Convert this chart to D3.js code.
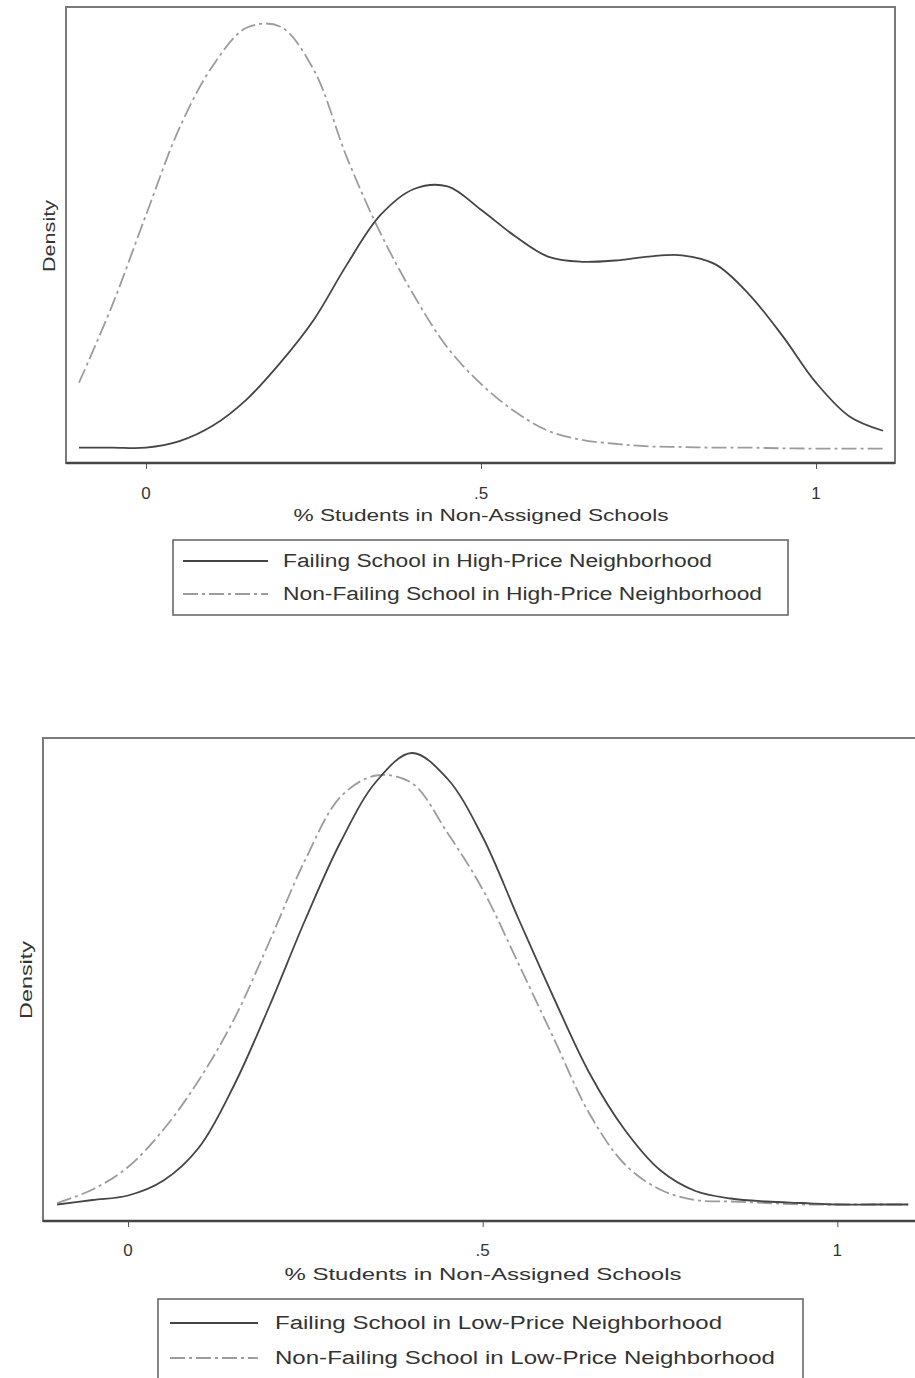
<!DOCTYPE html>
<html>
<head>
<meta charset="utf-8">
<script src="https://cdn.jsdelivr.net/npm/d3@7"></script>
<style>
  body { margin: 0; background: #fff; }
  text { font-family: "Liberation Sans", Arial, sans-serif; fill: #333; }
</style>
</head>
<body>
<svg width="915" height="1378"></svg>
<script>
// share of students in non-assigned schools (x grid of the density estimates)
const xGrid = [-0.1, -0.05, 0, 0.05, 0.1, 0.15, 0.2, 0.25, 0.3, 0.35, 0.4, 0.45, 0.5,
  0.55, 0.6, 0.65, 0.7, 0.75, 0.8, 0.85, 0.9, 0.95, 1, 1.05, 1.1];

// high-price neighborhoods
const highFailing = [0.01, 0.01, 0.01, 0.06, 0.18, 0.38, 0.66, 0.99, 1.42, 1.80, 2.00, 2.02, 1.84,
  1.64, 1.48, 1.44, 1.45, 1.48, 1.49, 1.42, 1.19, 0.87, 0.51, 0.25, 0.14];
const highNonFailing = [0.51, 1.11, 1.80, 2.47, 2.95, 3.24, 3.25, 2.92, 2.24, 1.66, 1.18, 0.78, 0.50,
  0.29, 0.14, 0.07, 0.04, 0.02, 0.015, 0.01, 0.01, 0.005, 0.003, 0.002, 0.002];

// low-price neighborhoods
const lowFailing = [0.01, 0.04, 0.07, 0.17, 0.39, 0.81, 1.34, 1.91, 2.43, 2.83, 3.02, 2.85, 2.46,
  1.92, 1.39, 0.89, 0.51, 0.24, 0.10, 0.05, 0.03, 0.02, 0.01, 0.01, 0.01];
const lowNonFailing = [0.02, 0.11, 0.26, 0.51, 0.84, 1.25, 1.77, 2.31, 2.73, 2.87, 2.82, 2.49, 2.11,
  1.62, 1.12, 0.62, 0.28, 0.11, 0.04, 0.03, 0.02, 0.01, 0.01, 0.01, 0.01];

const tickValues = [0, 0.5, 1];
const tickLabels = ['0', '.5', '1'];
const xTitle = '% Students in Non-Assigned Schools';
const yTitle = 'Density';
const highLegend = ['Failing School in High-Price Neighborhood', 'Non-Failing School in High-Price Neighborhood'];
const lowLegend = ['Failing School in Low-Price Neighborhood', 'Non-Failing School in Low-Price Neighborhood'];

const SOLID = '#454545';
const DASHED = '#9c9c9c';
const DASH = '15,4,3,4';

// layout of the two panels (pixels)
const panels = [
  {
    solid: highFailing, dashed: highNonFailing, legend: highLegend,
    left: 66, right: 895, top: 7, bottom: 463,
    xDom: [-0.1194, 1.1179], yDom: [-0.108, 3.40],
    tickY: 499, titleY: 521, titleX: 481, titleW: 375,
    densX: 55, densY: 236, densW: 72,
    box: [173, 540, 615, 75], rows: [567, 600], line: [183, 268], textX: 283, textW: [429, 479]
  },
  {
    solid: lowFailing, dashed: lowNonFailing, legend: lowLegend,
    left: 43, right: 921, top: 738, bottom: 1221,
    xDom: [-0.1199, 1.118], yDom: [-0.1, 3.12],
    tickY: 1256, titleY: 1280, titleX: 483, titleW: 397,
    densX: 32, densY: 980, densW: 78,
    box: [158, 1299, 645, 90], rows: [1329, 1364], line: [170, 258], textX: 275, textW: [447, 500]
  }
];

const svg = d3.select('svg');

panels.forEach((p) => {
  const x = d3.scaleLinear().domain(p.xDom).range([p.left, p.right]);
  const y = d3.scaleLinear().domain(p.yDom).range([p.bottom, p.top]);
  const g = svg.append('g');

  // plot frame
  g.append('rect')
    .attr('x', p.left).attr('y', p.top)
    .attr('width', p.right - p.left).attr('height', p.bottom - p.top)
    .attr('fill', 'none').attr('stroke', '#7a7a7a').attr('stroke-width', 2);

  // x axis
  const axis = g.append('g')
    .attr('transform', `translate(0,${p.bottom})`)
    .call(d3.axisBottom(x).tickValues(tickValues).tickSize(6).tickFormat((d, i) => tickLabels[i]));
  axis.select('.domain').remove();
  axis.selectAll('.tick line').attr('stroke', '#555');
  axis.selectAll('.tick text').remove();
  g.append('line')
    .attr('x1', p.left).attr('x2', p.right)
    .attr('y1', p.bottom).attr('y2', p.bottom)
    .attr('stroke', '#444').attr('stroke-width', 2.4);

  g.selectAll('.tlab')
    .data(tickValues)
    .enter()
    .append('text')
    .attr('x', (d) => x(d))
    .attr('y', p.tickY)
    .attr('text-anchor', 'middle')
    .style('font-size', '17px')
    .text((d, i) => tickLabels[i]);

  g.append('text')
    .attr('x', p.titleX)
    .attr('y', p.titleY)
    .attr('text-anchor', 'middle')
    .style('font-size', '17px')
    .attr('textLength', p.titleW)
    .attr('lengthAdjust', 'spacingAndGlyphs')
    .text(xTitle);

  g.append('text')
    .attr('transform', `translate(${p.densX},${p.densY}) rotate(-90)`)
    .attr('text-anchor', 'middle')
    .style('font-size', '16px')
    .attr('textLength', p.densW)
    .attr('lengthAdjust', 'spacingAndGlyphs')
    .text(yTitle);

  // density curves
  const line = (vals) => d3.line()
    .x((d, i) => x(xGrid[i]))
    .y((d) => y(d))
    .curve(d3.curveCatmullRom)(vals);

  g.append('path')
    .attr('d', line(p.dashed))
    .attr('fill', 'none')
    .attr('stroke', DASHED)
    .attr('stroke-width', 1.8)
    .attr('stroke-dasharray', DASH);

  g.append('path')
    .attr('d', line(p.solid))
    .attr('fill', 'none')
    .attr('stroke', SOLID)
    .attr('stroke-width', 1.8);

  // legend
  g.append('rect')
    .attr('x', p.box[0]).attr('y', p.box[1])
    .attr('width', p.box[2]).attr('height', p.box[3])
    .attr('fill', '#fff').attr('stroke', '#6a6a6a').attr('stroke-width', 1.6);

  const styles = [
    { color: SOLID, dash: null },
    { color: DASHED, dash: DASH }
  ];
  p.legend.forEach((label, i) => {
    g.append('line')
      .attr('x1', p.line[0]).attr('x2', p.line[1])
      .attr('y1', p.rows[i] - 6).attr('y2', p.rows[i] - 6)
      .attr('stroke', styles[i].color)
      .attr('stroke-width', 1.8)
      .attr('stroke-dasharray', styles[i].dash);
    g.append('text')
      .attr('x', p.textX)
      .attr('y', p.rows[i])
      .style('font-size', '18px')
      .attr('textLength', p.textW[i])
      .attr('lengthAdjust', 'spacingAndGlyphs')
      .text(label);
  });
});
</script>
</body>
</html>
